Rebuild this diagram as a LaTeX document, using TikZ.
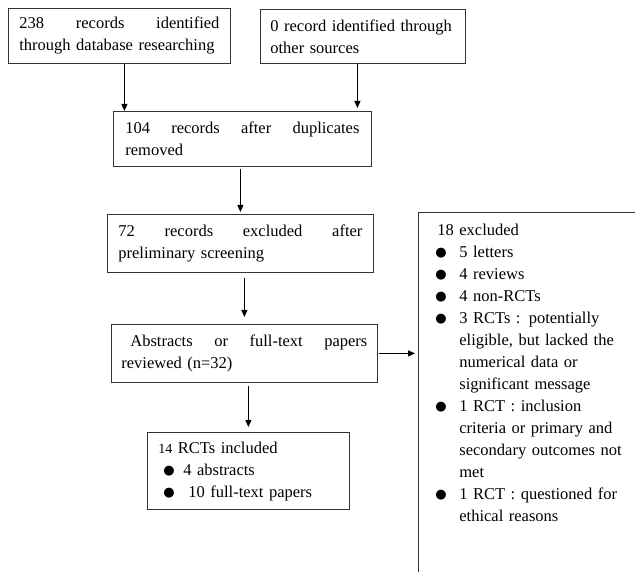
\documentclass[tikz,border=0pt]{standalone}
\usepackage{fontspec}
\setmainfont{Liberation Serif}
\newfontfamily\symfont{DejaVu Sans}
\usetikzlibrary{arrows.meta}
\newcommand{\bul}{\raisebox{0.5pt}{\symfont\fontsize{13}{13}\selectfont ●}}
\tikzset{
  flowbox/.style={draw=black!80, line width=0.8pt, anchor=north west, align=left, inner ysep=0pt, font=\fontsize{16.5}{22}\selectfont},
  flowarrow/.style={-{Triangle[length=7pt,width=6pt]}, line width=0.9pt}
}
\begin{document}
\begin{tikzpicture}[x=1pt,y=1pt]
		\path[use as bounding box, fill=white] (0,0) rectangle (635,571);
		%Identification
		\node[flowbox, inner xsep=11pt, text width=200pt, minimum height=55pt] (rec) at (8,563) {238\hfill records\hfill identified\\\mbox{through database researching}};
		\node[flowbox, inner xsep=10pt, text width=185pt, minimum height=54pt] (oth) at (260,562) {\mbox{0 record identified through}\\other sources};
		%Screening
		\node[flowbox, inner xsep=12pt, text width=234pt, minimum height=55pt] (dup) at (113,460) {104\hfill records\hfill after\hfill duplicates\\removed};
		\node[flowbox, inner xsep=11pt, text width=244pt, minimum height=58pt] (scr) at (107,357) {72\hfill records\hfill excluded\hfill after\\preliminary screening};
		\node[flowbox, inner xsep=10pt, text width=246pt, minimum height=58pt] (rev) at (111,247) {\hspace*{9pt}Abstracts\hfill or\hfill full-text\hfill papers\\reviewed (n=32)};
		%Included
		\node[flowbox, inner xsep=0pt, text width=202pt, minimum height=77pt] (inc) at (147,139) {\begin{tabular}{@{\hspace{16pt}}p{20pt}@{}l@{}}
			\multicolumn{2}{@{\hspace{11pt}}l}{{\fontsize{14}{22}\selectfont 14} RCTs included}\\
			\bul & 4 abstracts\\
			\bul & \hspace*{5pt}10 full-text papers
		\end{tabular}};
		%Excluded
		\node[flowbox, inner xsep=0pt, inner ysep=7.6pt, text width=230pt] (excl) at (418,359) {\parbox[c][372pt][t]{230pt}{\begin{tabular}{@{\hspace{17pt}}p{24pt}@{}l@{}}
			\multicolumn{2}{@{\hspace{19pt}}l}{18 excluded}\\
			\bul & 5 letters\\
			\bul & 4 reviews\\
			\bul & 4 non-RCTs\\
			\bul & 3 RCTs : potentially\\
			& eligible, but lacked the\\
			& numerical data or\\
			& significant message\\
			\bul & 1 RCT : inclusion\\
			& criteria or primary and\\
			& secondary outcomes not\\
			& met\\
			\bul & 1 RCT : questioned for\\
			& ethical reasons
		\end{tabular}}};
		%Arrows
		\draw[flowarrow] ([xshift=5pt]rec.south) -- ([xshift=5pt]rec.south |- dup.north);
		\draw[flowarrow, shorten >=3pt] ([xshift=-5.5pt]oth.south) -- ([xshift=-5.5pt]oth.south |- dup.north);
		\draw[flowarrow, shorten <=2pt, shorten >=2pt] ([xshift=-2pt]dup.south) -- ([xshift=-2pt]dup.south |- scr.north);
		\draw[flowarrow, shorten <=5pt, shorten >=7pt] ([xshift=4pt]scr.south) -- ([xshift=4pt]scr.south |- rev.north);
		\draw[flowarrow, shorten <=3pt, shorten >=5pt] ([xshift=4pt]rev.south) -- ([xshift=4pt]rev.south |- inc.north);
		\draw[flowarrow, shorten <=1pt, shorten >=3pt] (rev.east) -- (rev.east -| excl.west);
\end{tikzpicture}
\end{document}
